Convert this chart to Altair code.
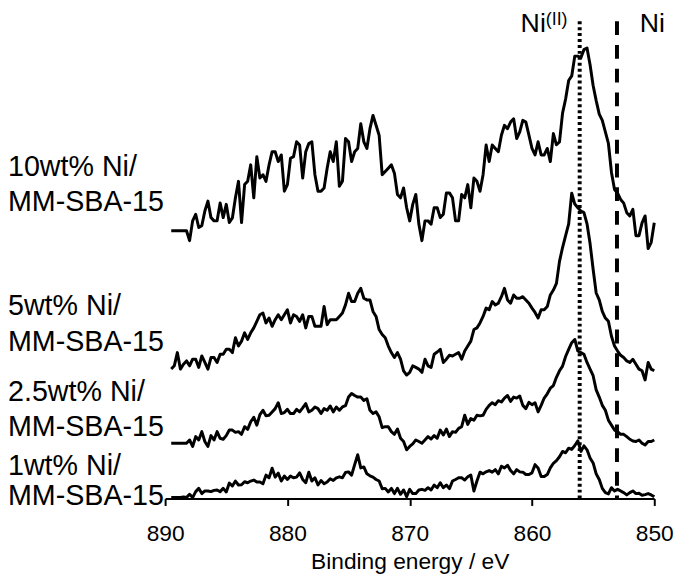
import altair as alt
import pandas as pd

# Binding energy grid (eV), read along the x axis of the reference
energy = [889.5, 889.0, 888.5, 888.0, 887.5, 887.0, 886.5, 886.0, 885.5, 885.0,
          884.5, 884.0, 883.5, 883.0, 882.5, 882.0, 881.5, 881.0, 880.5, 880.0,
          879.5, 879.0, 878.5, 878.0, 877.5, 877.0, 876.5, 876.0, 875.5, 875.0,
          874.5, 874.0, 873.5, 873.0, 872.5, 872.0, 871.5, 871.0, 870.5, 870.0,
          869.5, 869.0, 868.5, 868.0, 867.5, 867.0, 866.5, 866.0, 865.5, 865.0,
          864.5, 864.0, 863.5, 863.0, 862.5, 862.0, 861.5, 861.0, 860.5, 860.0,
          859.5, 859.0, 858.5, 858.0, 857.5, 857.0, 856.5, 856.0, 855.5, 855.0,
          854.5, 854.0, 853.5, 853.0, 852.5, 852.0, 851.5, 851.0, 850.5, 850.0]
# in-between readings, 0.25 eV after each grid value
energy_mid = [e - 0.25 for e in energy[:-1]]

# Offset intensities (a.u.): on the grid ...
ni10 = [271, 271, 271, 261, 287.7, 276, 301, 281, 299, 297.7, 284, 321, 317.7, 337.7,
        346, 327.7, 337.7, 351, 347.7, 317.7, 346, 357.7, 351, 361, 311, 314.3, 351,
        361, 321, 361, 351, 379.3, 354.3, 387.7, 367.7, 331, 337.7, 307.7, 314.3, 281,
        307.7, 261, 281, 294.3, 284.3, 309.3, 304.3, 281, 304.3, 294.3, 321, 327.7,
        341, 354.3, 367.7, 374.3, 384.3, 371, 381, 354.3, 361, 347.7, 341, 358,
        390, 423, 447.7, 446, 456, 418, 389, 371, 330, 309, 299, 286, 266, 279, 253, 279]
# ... and in between
ni10_mid = [271, 271, 271, 281, 274.3, 291, 284.3, 281, 284.3, 279.3,
            304.3, 279.3, 321, 304.3, 324.3, 321, 351, 341, 311, 344.3,
            361, 324.3, 359.3, 327.7, 311, 334.3, 341, 316, 364.3, 341,
            354.3, 361, 374.3, 377.7, 327.7, 334.3, 329.3, 304.3, 294.3, 297.7,
            277.7, 281, 277.7, 294.3, 287.7, 309.3, 281, 307.7, 317.7, 324.3,
            311, 357.7, 357.7, 351, 377.7, 381, 364.3, 382.7, 367.7, 347.7,
            347.7, 354.3, 369.3, 361, 404.3, 427.7, 447.7, 454.3, 439, 402.7,
            382.7, 359.3, 312.7, 302.7, 289.3, 292.7, 266, 286, 259.3]

ni5 = [131, 147.7, 136, 134.3, 141, 144.3, 131, 142.7, 146, 151, 147.7, 154.3, 167.7,
       167.7, 179.3, 187.7, 182.7, 181, 181, 191, 186, 179.3, 172.7, 184.3, 174.3,
       194.3, 181, 181, 187.7, 207.7, 199.3, 212.7, 201, 189.3, 171, 162.7, 147.7,
       147.7, 129.3, 127.7, 132.7, 127.7, 134.3, 146, 151, 141, 144.3, 147.7, 149.3,
       159.3, 172.7, 184.3, 191, 196, 204.3, 201, 206, 202.7, 201, 192.7, 182.7, 191,
       206, 217.7, 254, 278, 298, 291, 278, 232, 201, 182.7, 164.3, 149.3, 142.7,
       137.7, 136, 129.3, 137.7, 129.3]
ni5_mid = [134.3, 131, 139.3, 141, 132.7, 137.7, 142.7, 137.7, 146, 151,
           162.7, 159.3, 161, 172.7, 186, 177.7, 174.3, 186, 186, 177.7,
           184.3, 186, 184.3, 174.3, 174.3, 176, 181, 184.3, 196, 199.3,
           207.7, 202.7, 201, 184.3, 166, 154.3, 142.7, 141, 125, 134.3,
           131, 141, 132.7, 148.3, 137.7, 145, 146, 141, 154.3, 171,
           177.7, 192.7, 199.3, 197.7, 212.7, 197.7, 202.7, 204.3, 197.7, 188.3,
           191, 194.3, 211, 240, 266, 309, 294.3, 289.3, 258, 208,
           189.3, 179.3, 154.3, 145, 139.3, 141, 131, 120, 131]

ni25 = [56, 56, 56, 59.3, 62.7, 67.7, 52.7, 59.3, 61, 63.7, 69.3, 67.7, 72.7, 77.7,
        74.3, 89.3, 84.3, 91, 86, 90.3, 86, 87.7, 96, 89.3, 91, 91, 93.7, 92.7, 92.7,
        102.7, 104.3, 102.7, 101, 86, 82.7, 72.7, 67.7, 70.3, 57.7, 52.7, 59.3, 56,
        62.7, 63.7, 69.3, 70.3, 67.7, 71, 84.3, 81, 84.3, 84.3, 94.3, 95, 97.7, 104.3,
        102.7, 103.7, 91, 95, 87.7, 101.7, 111.7, 122.7, 134, 151, 161, 147.7, 137.7,
        124.3, 102.7, 89.3, 74.3, 67.7, 65, 60, 57.7, 56, 57.7, 59.3]
ni25_mid = [56, 56, 56, 52.7, 59.3, 57.7, 63.7, 67.7, 60, 69.3,
            67, 65, 70, 82.3, 85, 83.7, 87.7, 97, 87, 86,
            90.3, 91.7, 87.7, 92.7, 86, 89.3, 87.7, 89.3, 94, 106.3,
            102.7, 99.3, 89.3, 87.7, 71.7, 72.7, 65, 61, 49.3, 55.3,
            57.7, 59.3, 60.3, 61, 64.3, 62.7, 67, 72.7, 75, 79.3,
            83.7, 90.3, 97, 99, 101.7, 98.3, 101.7, 94.3, 97.3, 97,
            94.3, 106, 114.3, 129.3, 143.7, 157.7, 149.3, 146, 131, 110,
            94.3, 79.3, 69.3, 65, 62.7, 58.3, 59.3, 54.3, 57.7]

ni1 = [1, 1, 1.7, 4.3, 7, 5, 7.7, 8.3, 7, 6.7, 12.7, 13.7, 17, 17.7, 16.7, 15, 21,
       21.7, 17.7, 19.3, 21, 26, 16, 17.7, 13.7, 15, 20, 21, 21, 27, 34.3, 31, 25,
       21.7, 17.7, 10.3, 10.3, 10.3, 8.7, 9.3, 5, 9.3, 11, 13.7, 16, 13.7, 17.7, 21,
       18.7, 23.7, 17.7, 25, 28.3, 29.3, 32.7, 33.7, 25, 27, 24.3, 26, 31, 22.3, 31,
       38.3, 47.7, 51, 53.7, 47.7, 49.3, 36, 19.3, 6, 11, 9.3, 6, 6, 5, 3.3, 5, 1.7]
ni1_mid = [1, 1, 1, 1, 10.3, 7.7, 7, 8.7, 10.3, 15.7,
           17.7, 14, 16, 18.7, 16.7, 23.7, 30.7, 25.7, 22.7, 22.7,
           21.7, 19.3, 26.7, 21, 18.3, 16.7, 18.3, 22, 26.3, 23.7,
           44.3, 32, 23, 19.3, 10, 6.7, 5, 4.3, 2, 5,
           8.7, 8.3, 8.7, 11, 11, 10, 19.3, 21, 22, 7.7,
           26.7, 27, 26.7, 25, 31, 28.3, 29.3, 26.7, 24.3, 34.3,
           22.3, 24.3, 35.7, 42.3, 46.3, 49.7, 58.3, 53.3, 41, 25,
           10.3, 4.7, 7.7, 7.7, 3.7, 7.7, 5.3, 4, 3.7]

series = {
    "10wt%": (ni10, ni10_mid),
    "5wt%": (ni5, ni5_mid),
    "2.5wt%": (ni25, ni25_mid),
    "1wt%": (ni1, ni1_mid),
}

# Reference lines (eV)
ni2_energy = [856.1]
ni0_energy = [853.05]

# Sample labels and their vertical anchors (a.u.)
sample_lines = ["10wt% Ni/", "MM-SBA-15", "5wt% Ni/", "MM-SBA-15",
                "2.5wt% Ni/", "MM-SBA-15", "1wt% Ni/", "MM-SBA-15"]
sample_y = [326, 291, 186, 149, 99, 63, 24, -7]

tick_values = [890, 880, 870, 860, 850]

rows = []
for name, (vals, mids) in series.items():
    assert len(vals) == len(energy) and len(mids) == len(energy_mid), name
    for e, v in zip(energy, vals):
        rows.append({"series": name, "energy": e, "intensity": v})
    for e, v in zip(energy_mid, mids):
        rows.append({"series": name, "energy": e, "intensity": v})
df = pd.DataFrame(rows).sort_values(["series", "energy"])

FONT = "Liberation Sans"
xs = alt.Scale(domain=[890, 850], nice=False, zero=False)
ys = alt.Scale(domain=[0, 483], nice=False, zero=False)

lines = alt.Chart(df).mark_line(color="black", strokeWidth=3, strokeJoin="round").encode(
    x=alt.X("energy:Q", scale=xs,
            axis=alt.Axis(values=tick_values, format="d", title="Binding energy / eV",
                          labelFontSize=23, labelFont=FONT, labelColor="black",
                          labelFlush=False, labelOverlap=False, labelPadding=17,
                          tickColor="black", tickSize=7, tickWidth=2,
                          domainColor="black", domainWidth=2, grid=False,
                          titleFontSize=23, titleFont=FONT, titleFontWeight="normal",
                          titleColor="black", titlePadding=6)),
    y=alt.Y("intensity:Q", scale=ys, axis=None),
    detail="series:N",
)

dotted = alt.Chart(pd.DataFrame({"energy": ni2_energy})).mark_rule(
    color="black", strokeWidth=4, strokeDash=[3, 3]
).encode(x=alt.X("energy:Q", scale=xs))

dashed = alt.Chart(pd.DataFrame({"energy": ni0_energy})).mark_rule(
    color="black", strokeWidth=4, strokeDash=[14, 10]
).encode(x=alt.X("energy:Q", scale=xs))

labels = alt.Chart(pd.DataFrame({"text": sample_lines, "y": sample_y})).mark_text(
    align="left", baseline="alphabetic", fontSize=29, font=FONT, color="black"
).encode(x=alt.value(-159), y=alt.Y("y:Q", scale=ys), text="text:N")

ni_ii = alt.Chart(pd.DataFrame({"text": ["Ni"], "energy": [858.87], "y": [472]})).mark_text(
    align="right", baseline="alphabetic", fontSize=27, font=FONT, color="black"
).encode(x=alt.X("energy:Q", scale=xs), y=alt.Y("y:Q", scale=ys), text="text:N")
ni_sup = alt.Chart(pd.DataFrame({"text": ["(II)"], "energy": [858.87], "y": [479]})).mark_text(
    align="left", baseline="alphabetic", fontSize=18, font=FONT, color="black"
).encode(x=alt.X("energy:Q", scale=xs), y=alt.Y("y:Q", scale=ys), text="text:N")
ni_0 = alt.Chart(pd.DataFrame({"text": ["Ni"], "energy": [851.19], "y": [472]})).mark_text(
    align="left", baseline="alphabetic", fontSize=27, font=FONT, color="black"
).encode(x=alt.X("energy:Q", scale=xs), y=alt.Y("y:Q", scale=ys), text="text:N")

chart = alt.layer(dotted, dashed, lines, labels, ni_ii, ni_sup, ni_0).properties(
    width=495, height=483,
    autosize=alt.AutoSizeParams(type="none"),
    padding={"left": 159, "top": 10, "right": 23, "bottom": 78},
    background="white",
).configure_view(stroke=None)

chart.save("out.html", embed_options={"renderer": "svg", "actions": False})
